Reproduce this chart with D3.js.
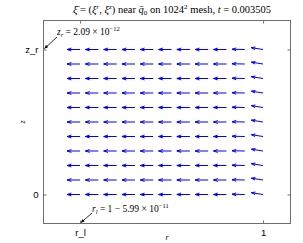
<!DOCTYPE html>
<html>
<head>
<meta charset="utf-8">
<script src="https://cdn.jsdelivr.net/npm/d3@7"></script>
<style>
  body { margin: 0; background: #fff; }
  text { font-family: "Liberation Serif", serif; }
  .tick text { font-family: "Liberation Sans", Arial, sans-serif; }
</style>
</head>
<body>
<script>
// grid of the quiver, in normalised units: 0 = r_l / 0, 1 = 1 / z_r
var rGrid = [0, 0.1, 0.2, 0.3, 0.4, 0.5, 0.6, 0.7, 0.8, 0.9, 1]
var zGrid = [0, 0.1, 0.2, 0.3, 0.4, 0.5, 0.6, 0.7, 0.8, 0.9, 1]

// xi components, one value per column (rows look the same)
var xiR = [-1, -1, -1, -1, -1, -1, -1, -1, -1, -0.98, -0.9]
var xiZ = [0, 0, 0, 0, 0, 0, 0, 0, 0, 0.02, 0.14]

var xTicks = [0, 1], xTickLabels = ["r_l", "1"]
var yTicks = [0, 1], yTickLabels = ["0", "z_r"]

var W = 303, H = 243
var svg = d3.select("body").append("svg")
  .attr("width", W).attr("height", H)

var x = d3.scaleLinear().domain([-0.2, 1.15]).range([43.5, 290.5])
var y = d3.scaleLinear().domain([-0.2, 1.2]).range([223.5, 20.5])
var arrowLen = 13 // pixels for |xi| = 1

svg.append("defs").append("marker")
  .attr("id", "ah").attr("viewBox", "0 0 10 10")
  .attr("refX", 9).attr("refY", 5)
  .attr("markerWidth", 5).attr("markerHeight", 5)
  .attr("orient", "auto")
  .append("path").attr("d", "M0,1L10,5L0,9z").attr("fill", "#000")

// quiver
var pts = []
zGrid.forEach(function (z) {
  rGrid.forEach(function (r, i) { pts.push({ r: r, z: z, u: xiR[i], v: xiZ[i] }) })
})
svg.append("g").selectAll("path").data(pts).enter().append("path")
  .attr("fill", "none").attr("stroke", "#0000ff").attr("stroke-width", 1)
  .attr("d", function (d) {
    var x0 = x(d.r), y0 = y(d.z)
    var dx = d.u * arrowLen, dy = -d.v * arrowLen
    var x1 = x0 + dx, y1 = y0 + dy
    var a = 0.33, b = 0.33
    var p1 = [x1 - a * (dx + b * dy), y1 - a * (dy - b * dx)]
    var p2 = [x1 - a * (dx - b * dy), y1 - a * (dy + b * dx)]
    return "M" + x0 + "," + y0 + "L" + x1 + "," + y1 +
      "M" + p1 + "L" + x1 + "," + y1 + "L" + p2
  })

// box and ticks
var axisCol = "#6e6e6e"
svg.append("rect")
  .attr("x", x.range()[0]).attr("y", y.range()[1])
  .attr("width", x.range()[1] - x.range()[0])
  .attr("height", y.range()[0] - y.range()[1])
  .attr("fill", "none").attr("stroke", axisCol)

function styleAxis(g) {
  g.select(".domain").remove()
  g.selectAll(".tick line").attr("stroke", axisCol)
  g.selectAll(".tick text").attr("font-size", 9.5).attr("fill", "#000")
}
svg.append("g").attr("transform", "translate(0," + y.range()[0] + ")")
  .call(d3.axisBottom(x).tickValues(xTicks).tickSizeInner(-3).tickPadding(6)
    .tickFormat(function (d, i) { return xTickLabels[i] }))
  .call(styleAxis)
svg.append("g").attr("transform", "translate(0," + y.range()[1] + ")")
  .call(d3.axisTop(x).tickValues(xTicks).tickSizeInner(-3).tickFormat(""))
  .call(styleAxis)
svg.append("g").attr("transform", "translate(" + x.range()[0] + ",0)")
  .call(d3.axisLeft(y).tickValues(yTicks).tickSizeInner(-3).tickPadding(5)
    .tickFormat(function (d, i) { return yTickLabels[i] }))
  .call(styleAxis)
svg.append("g").attr("transform", "translate(" + x.range()[1] + ",0)")
  .call(d3.axisRight(y).tickValues(yTicks).tickSizeInner(-3).tickFormat(""))
  .call(styleAxis)

// axis labels
svg.append("text").attr("x", 167).attr("y", 240).attr("text-anchor", "middle")
  .attr("font-size", 8).attr("font-style", "italic").text("r")
svg.append("text").attr("transform", "translate(25,122) rotate(-90)")
  .attr("text-anchor", "middle").attr("font-size", 8).attr("font-style", "italic").text("z")

// title
var t = svg.append("text").attr("x", 172).attr("y", 13).attr("text-anchor", "middle")
  .attr("font-size", 10.5)
t.append("tspan").attr("font-style", "italic").text("\u03BE\u0304")
t.append("tspan").text(" = (")
t.append("tspan").attr("font-style", "italic").text("\u03BE")
t.append("tspan").attr("font-style", "italic").attr("font-size", 7).attr("dy", -4).text("r")
t.append("tspan").attr("dy", 4).text(", ")
t.append("tspan").attr("font-style", "italic").text("\u03BE")
t.append("tspan").attr("font-style", "italic").attr("font-size", 7).attr("dy", -4).text("z")
t.append("tspan").attr("dy", 4).text(") near ")
t.append("tspan").attr("font-style", "italic").text("q\u0304")
t.append("tspan").attr("font-size", 7).attr("dy", 2).text("0")
t.append("tspan").attr("dy", -2).text(" on 1024")
t.append("tspan").attr("font-size", 7).attr("dy", -4).text("2")
t.append("tspan").attr("dy", 4).text(" mesh, ")
t.append("tspan").attr("font-style", "italic").text("t")
t.append("tspan").text(" = 0.003505")

// annotations
var a1 = svg.append("text").attr("x", 57).attr("y", 35).attr("font-size", 9.5)
a1.append("tspan").attr("font-style", "italic").text("z")
a1.append("tspan").attr("font-style", "italic").attr("font-size", 6.5).attr("dy", 2).text("r")
a1.append("tspan").attr("dy", -2).text(" = 2.09 \u00D7 10")
a1.append("tspan").attr("font-size", 6.5).attr("dy", -4).text("\u221212")
svg.append("line").attr("x1", 57).attr("y1", 37).attr("x2", x(-0.2) + 1).attr("y2", y(1) - 1)
  .attr("stroke", "#000").attr("stroke-width", 0.8).attr("marker-end", "url(#ah)")

var a2 = svg.append("text").attr("x", 92).attr("y", 212).attr("font-size", 9.5)
a2.append("tspan").attr("font-style", "italic").text("r")
a2.append("tspan").attr("font-style", "italic").attr("font-size", 6.5).attr("dy", 2).text("l")
a2.append("tspan").attr("dy", -2).text(" = 1 \u2212 5.99 \u00D7 10")
a2.append("tspan").attr("font-size", 6.5).attr("dy", -4).text("\u221211")
svg.append("line").attr("x1", 92).attr("y1", 213).attr("x2", x(0) + 1).attr("y2", y(-0.2) - 1)
  .attr("stroke", "#000").attr("stroke-width", 0.8).attr("marker-end", "url(#ah)")
</script>
</body>
</html>
